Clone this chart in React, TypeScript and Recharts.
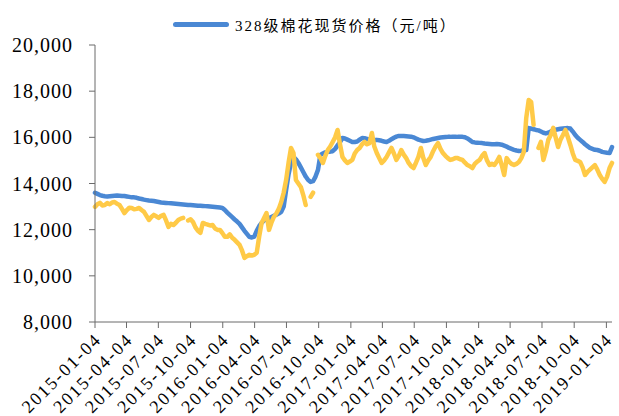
import { LineChart, Line, XAxis, YAxis } from "recharts";

// weekly observations starting 2015-01-04
const startDate = "2015-01-04";

const tickDates = [
  "2015-01-04", "2015-04-04", "2015-07-04", "2015-10-04",
  "2016-01-04", "2016-04-04", "2016-07-04", "2016-10-04",
  "2017-01-04", "2017-04-04", "2017-07-04", "2017-10-04",
  "2018-01-04", "2018-04-04", "2018-07-04", "2018-10-04",
  "2019-01-04",
];

const yTicks = [8000, 10000, 12000, 14000, 16000, 18000, 20000];

const spotName = "328级棉花现货价格（元/吨）";

// blue: 328 grade cotton spot price
const spotPrice = [
  13600, 13550, 13500, 13470, 13450, 13440, 13450, 13460, 13470, 13480, 13470, 13460, 13460,
  13440, 13420, 13400, 13400, 13380, 13350, 13330, 13300, 13280, 13260, 13250, 13240, 13220, 13200,
  13180, 13170, 13160, 13150, 13140, 13130, 13120, 13110, 13100, 13090, 13080, 13070, 13070,
  13060, 13050, 13040, 13040, 13030, 13020, 13010, 13000, 12990, 12980, 12970, 12960, 12940,
  12850, 12740, 12640, 12540, 12440, 12350, 12250, 12100, 11950, 11820, 11690, 11660, 11700,
  11950, 12150, 12290, 12400, 12450, 12500, 12550, 12600, 12650, 12700, 12770, 13000,
  13720, 14400, 14900, 15150, 15050, 14890, 14700, 14500, 14300, 14150, 14070, 14100, 14300, 14590,
  15240, 15300, 15350, 15370, 15380, 15400, 15500, 15650, 15800, 15970, 15950, 15900, 15850,
  15800, 15800, 15820, 15900, 15970, 15960, 15930, 15900, 15880, 15880, 15890, 15870, 15850,
  15820, 15800, 15850, 15920, 15980, 16030, 16060, 16060, 16060, 16050, 16040, 16030, 16000, 15950,
  15900, 15870, 15840, 15850, 15870, 15900, 15930, 15950, 15970, 15990, 16000, 16010, 16020,
  16020, 16030, 16030, 16020, 16020, 16020, 16000, 15950, 15880, 15800, 15780, 15770, 15760,
  15750, 15730, 15720, 15710, 15700, 15700, 15710, 15700, 15680, 15640, 15600, 15540, 15500,
  15460, 15430, 15410, 15420, 15440, 15450, 16400, 16380, 16350, 16320, 16300, 16250, 16200,
  16170, 16200, 16250, 16300, 16330, 16350, 16370, 16380, 16390, 16400, 16380, 16250, 16100,
  15980, 15890, 15800, 15700, 15620, 15540, 15500, 15460, 15450, 15420, 15370, 15350, 15330, 15320, 15580,
];

// yellow: second (unlabelled) price series, null = gap in the line
const otherPrice = [
  12990, 13100, 13160, 13050, 13070, 13150, 13100, 13180, 13200, 13120, 13070, 12900, 12720,
  12850, 12950, 12940, 12880, 12900, 12940, 12850, 12770, 12600, 12420, 12550, 12640, 12580, 12510,
  12600, 12640, 12400, 12120, 12250, 12200, 12300, 12420, 12480, 12510, null, 12400, 12450,
  12330, 12100, 11950, 11860, 12290, 12250, 12220, 12180, 12200, 12050, 11990, 11990, 11850,
  11690, 11690, 11800, 11650, 11560, 11450, 11340, 11100, 10780, 10850, 10910, 10880, 10910,
  11000, 11700, 12290, 12500, 12720, 11990, 12300, 12550, 12700, 12900, 13200, 13600,
  14150, 14900, 15540, 15320, 14150, 14000, 13850, 13500, 13070, null, 13420, 13600, null, 15240,
  15100, 14890, 15200, 15450, 15600, 15800, 16000, 16320, 15700, 15150, 15000, 14890, 14950,
  15020, 15300, 15450, 15540, 15700, 15800, 15700, 15750, 16190, 15600, 15320, 15100, 14890,
  15000, 15150, 15350, 15540, 15300, 15020, 15200, 15450, 15250, 15100, 14890, 14750, 14670, 14900,
  15150, 15540, 15100, 14800, 15000, 15150, 15400, 15600, 15750, 15500, 15320, 15200, 15100,
  15020, 15050, 15100, 15100, 15050, 15020, 14900, 14800, 14750, 14670, 14850, 14950, 15020,
  15200, 15320, 15000, 14800, 14850, 14800, 14950, 15150, 14800, 14370, 15100, 14950, 14850,
  14800, 14850, 14930, 15100, 15370, 16840, 17620, 17530, 16540, null, 15540, 15800, 15020,
  15400, 15890, 16100, 16410, 16000, 15580, 15900, 16100, 16320, 16000, 15670, 15300, 15020,
  14980, 14930, 14700, 14370, 14500, 14600, 14700, 14800, 14600, 14370, 14200, 14070, 14300, 14670, 14890,
];

const DAY = 86400000;
const dayOffset = (d: string) => Math.round((Date.parse(d) - Date.parse(startDate)) / DAY);

const chartData = spotPrice.map((v, i) => ({
  day: i * 7,
  spot: v,
  other: otherPrice[i],
}));

const xTicks = tickDates.map(dayOffset);

const BLUE = "#4a88d4";
const YELLOW = "#ffca47";
const AXIS = "#6b6b6b";
const FONT = "'Liberation Serif', 'Times New Roman', serif";

const DateTick = (props: any) => {
  const { x, y, payload } = props;
  const label = tickDates[xTicks.indexOf(payload.value)];
  return (
    <text
      x={x + 3}
      y={y}
      dy="0.35em"
      textAnchor="end"
      transform={`rotate(-45, ${x + 3}, ${y})`}
      fontFamily={FONT}
      fontSize={18}
      letterSpacing={2}
      fill="#000"
    >
      {label}
    </text>
  );
};

export default function App() {
  return (
    <div style={{ position: "absolute", left: 0, top: 0, width: 619, height: 416, background: "#fff" }}>
      {/* legend: only the blue series is listed */}
      <div
        style={{
          position: "absolute",
          left: 173,
          top: 14,
          display: "flex",
          alignItems: "center",
          fontFamily: "'Liberation Serif', 'Noto Sans CJK SC', serif",
          fontSize: 15,
          letterSpacing: 2,
          color: "#000",
          whiteSpace: "nowrap",
        }}
      >
        <span style={{ display: "inline-block", width: 56, height: 5, borderRadius: 3, background: BLUE, marginRight: 6 }} />
        <span>{spotName}</span>
      </div>
      <LineChart
        width={619}
        height={416}
        data={chartData}
        margin={{ top: 45, right: 7, bottom: 0, left: 0 }}
      >
        <XAxis
          dataKey="day"
          type="number"
          domain={[0, "dataMax"]}
          ticks={xTicks}
          interval={0}
          tick={<DateTick />}
          tickSize={6}
          tickMargin={8}
          stroke={AXIS}
          height={94}
        />
        <YAxis
          type="number"
          domain={[8000, 20000]}
          ticks={yTicks}
          interval={0}
          width={95}
          tickSize={6}
          tickMargin={16}
          stroke={AXIS}
          tick={{ fill: "#000", fontFamily: FONT, fontSize: 20, letterSpacing: 1 }}
          tickFormatter={(v: number) => v.toLocaleString("en-US")}
        />
        <Line
          type="linear"
          dataKey="spot"
          name={spotName}
          stroke={BLUE}
          strokeWidth={4.5}
          dot={false}
          strokeLinejoin="round"
          strokeLinecap="round"
          isAnimationActive={false}
        />
        <Line
          type="linear"
          dataKey="other"
          stroke={YELLOW}
          strokeWidth={4.5}
          dot={false}
          strokeLinejoin="round"
          strokeLinecap="round"
          isAnimationActive={false}
        />
      </LineChart>
    </div>
  );
}
